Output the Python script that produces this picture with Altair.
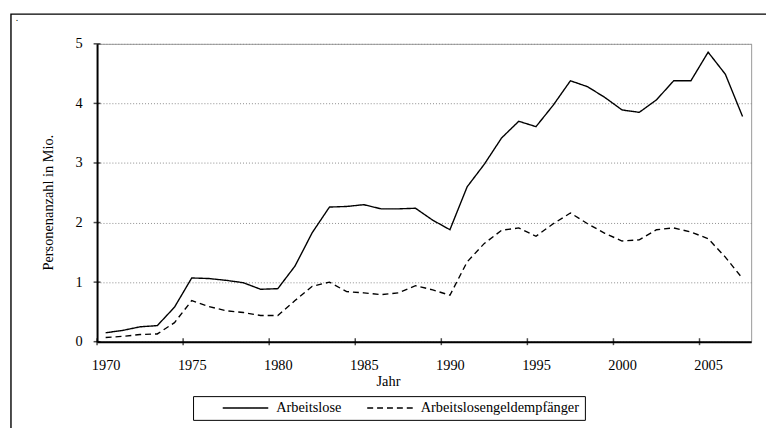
import altair as alt
import pandas as pd

# ---- data (millions of persons) ----
years = list(range(1970, 2008))
arbeitslose = [0.15, 0.19, 0.25, 0.27, 0.58, 1.07, 1.06, 1.03, 0.99, 0.88,
               0.89, 1.27, 1.83, 2.26, 2.27, 2.30, 2.23, 2.23, 2.24, 2.04,
               1.88, 2.60, 2.98, 3.42, 3.70, 3.61, 3.97, 4.38, 4.28, 4.10,
               3.89, 3.85, 4.06, 4.38, 4.38, 4.86, 4.49, 3.78]
alg_empfaenger = [0.07, 0.09, 0.12, 0.13, 0.32, 0.69, 0.59, 0.52, 0.49, 0.44,
                  0.44, 0.69, 0.93, 1.00, 0.84, 0.82, 0.79, 0.82, 0.94, 0.87,
                  0.78, 1.34, 1.65, 1.87, 1.91, 1.77, 1.98, 2.16, 1.98, 1.82,
                  1.69, 1.71, 1.88, 1.91, 1.84, 1.73, 1.42, 1.06]
series_names = ["Arbeitslose", "Arbeitslosengeldempfänger"]
x_tick_years = [1970, 1975, 1980, 1985, 1990, 1995, 2000, 2005]
y_tick_values = [0, 1, 2, 3, 4, 5]

FONT = "Liberation Serif"
FS = 14.5

df = pd.DataFrame({
    "Jahr": years * 2,
    "Wert": arbeitslose + alg_empfaenger,
    "Reihe": [series_names[0]] * len(years) + [series_names[1]] * len(years),
})
xticks_df = pd.DataFrame({"t": x_tick_years})
yticks_df = pd.DataFrame({"v": y_tick_values})

x_scale = alt.Scale(domain=[1970, 2008], nice=False, zero=False)
y_scale = alt.Scale(domain=[0, 5], nice=False)

x_axis = alt.Axis(values=[v + 0.5 for v in x_tick_years],
                  labelExpr="floor(datum.value)",
                  labelFlush=False, ticks=False, tickSize=0,
                  grid=False, domainColor="black", domainWidth=2,
                  labelPadding=17,
                  titleX=294, titleY=44, titleBaseline="alphabetic")
y_axis = alt.Axis(values=y_tick_values, format="d", ticks=False,
                  tickSize=0, grid=True, gridColor="#8c8c8c",
                  gridDash=[1, 2], gridWidth=1,
                  domainColor="black", domainWidth=2,
                  labelPadding=15,
                  titleAngle=270, titleX=-45, titleY=160,
                  titleAlign="center", titleBaseline="alphabetic")

lines = alt.Chart(df).transform_calculate(
    xpos="datum.Jahr + 0.5"
).mark_line(color="black", strokeWidth=1.4).encode(
    x=alt.X("xpos:Q", scale=x_scale, axis=x_axis, title="Jahr"),
    y=alt.Y("Wert:Q", scale=y_scale, axis=y_axis,
            title="Personenanzahl in Mio."),
    strokeDash=alt.StrokeDash(
        "Reihe:N",
        scale=alt.Scale(domain=series_names, range=[[1, 0], [6, 4]]),
        legend=alt.Legend(title=None, orient="none", legendX=97, legendY=356,
                          direction="horizontal", strokeColor="black",
                          fillColor="white", padding=5, clipHeight=14,
                          symbolType="stroke", symbolSize=2116,
                          symbolStrokeWidth=1.4, symbolStrokeColor="black",
                          symbolOffset=24, labelOffset=7,
                          columnPadding=0, labelLimit=400, labelFont=FONT,
                          labelFontSize=FS, labelColor="black")),
)

xticks = alt.Chart(xticks_df).mark_tick(
    orient="vertical", size=7, thickness=1.5, color="black"
).encode(
    x=alt.X("t:Q", scale=x_scale, axis=x_axis, title="Jahr"),
    y=alt.Y(datum=0, type="quantitative", scale=y_scale, axis=y_axis,
            title="Personenanzahl in Mio."),
)

yticks = alt.Chart(yticks_df).mark_tick(
    orient="horizontal", size=7, thickness=1.5, color="black"
).encode(
    x=alt.X(datum=1970, type="quantitative", scale=x_scale, axis=x_axis,
            title="Jahr"),
    y=alt.Y("v:Q", scale=y_scale, axis=y_axis,
            title="Personenanzahl in Mio."),
)

frame = alt.Chart(pd.DataFrame({"a": [0]})).mark_rect(
    fillOpacity=0, stroke="black", strokeWidth=1.4
).encode(
    x=alt.value(-87), x2=alt.value(700),
    y=alt.value(-30), y2=alt.value(420),
)

dot = alt.Chart(pd.DataFrame({"a": [0]})).mark_text(
    text=".", font=FONT, fontSize=10, color="black"
).encode(x=alt.value(-81), y=alt.value(-26))

chart = alt.layer(lines, xticks, yticks, frame, dot).properties(
    width=661, height=301,
    autosize=alt.AutoSizeParams(type="none"),
    padding={"left": 90, "top": 34, "right": 15, "bottom": 85},
    background="white",
).configure_view(
    stroke="#9a9a9a", strokeWidth=1
).configure_axis(
    labelFont=FONT, labelFontSize=FS, labelColor="black",
    titleFont=FONT, titleFontSize=FS, titleColor="black",
    titleFontWeight="normal",
)

chart.save("out.html", embed_options={"renderer": "svg", "actions": False})
